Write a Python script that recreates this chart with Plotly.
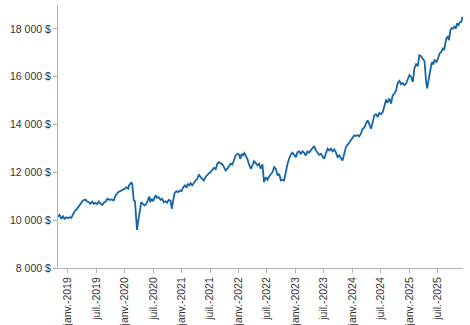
import plotly.graph_objects as go

# Portfolio value over time (weekly-ish closes)
dates = [
    "2018-10-29", "2018-11-08", "2018-11-19", "2018-11-30", "2018-12-10", "2018-12-21",
    "2019-01-01", "2019-01-11", "2019-01-22", "2019-02-02", "2019-02-12", "2019-02-28",
    "2019-03-17", "2019-03-28", "2019-04-07", "2019-04-24", "2019-05-03", "2019-05-16",
    "2019-05-24", "2019-06-06", "2019-06-15", "2019-06-27", "2019-07-06", "2019-07-19",
    "2019-07-28", "2019-08-10", "2019-08-18", "2019-08-31", "2019-09-11", "2019-09-22",
    "2019-10-06", "2019-10-21", "2019-11-03", "2019-11-19", "2019-12-03", "2019-12-16",
    "2019-12-31", "2020-01-11", "2020-01-22", "2020-01-28", "2020-02-06", "2020-02-12",
    "2020-02-18", "2020-02-27", "2020-03-06", "2020-03-19", "2020-03-27", "2020-04-04",
    "2020-04-15", "2020-04-26", "2020-05-07", "2020-05-18", "2020-05-29", "2020-06-06",
    "2020-06-12", "2020-06-21", "2020-06-30", "2020-07-09", "2020-07-17", "2020-07-26",
    "2020-08-06", "2020-08-17", "2020-08-28", "2020-09-07", "2020-09-18", "2020-09-29",
    "2020-10-09", "2020-10-20", "2020-10-28", "2020-11-06", "2020-11-15", "2020-11-27",
    "2020-12-08", "2020-12-19", "2020-12-30", "2021-01-10", "2021-01-20", "2021-01-31",
    "2021-02-08", "2021-02-17", "2021-02-26", "2021-03-08", "2021-03-19", "2021-03-30",
    "2021-04-10", "2021-04-20", "2021-05-01", "2021-05-12", "2021-05-22", "2021-06-02",
    "2021-06-13", "2021-06-23", "2021-07-04", "2021-07-15", "2021-07-26", "2021-08-06",
    "2021-08-16", "2021-08-27", "2021-09-07", "2021-09-18", "2021-09-28", "2021-10-09",
    "2021-10-20", "2021-10-30", "2021-11-10", "2021-11-21", "2021-12-01", "2021-12-12",
    "2021-12-23", "2022-01-02", "2022-01-11", "2022-01-20", "2022-01-28", "2022-02-06",
    "2022-02-14", "2022-02-25", "2022-03-08", "2022-03-19", "2022-03-30", "2022-04-09",
    "2022-04-20", "2022-05-01", "2022-05-11", "2022-05-22", "2022-06-02", "2022-06-12",
    "2022-06-23", "2022-07-04", "2022-07-15", "2022-07-26", "2022-08-05", "2022-08-16",
    "2022-08-27", "2022-09-07", "2022-09-17", "2022-09-28", "2022-10-09", "2022-10-19",
    "2022-10-30", "2022-11-10", "2022-11-20", "2022-12-01", "2022-12-12", "2022-12-23",
    "2023-01-03", "2023-01-13", "2023-01-24", "2023-02-03", "2023-02-14", "2023-02-24",
    "2023-03-07", "2023-03-18", "2023-03-28", "2023-04-08", "2023-04-19", "2023-04-30",
    "2023-05-11", "2023-05-21", "2023-06-01", "2023-06-12", "2023-06-23", "2023-07-03",
    "2023-07-14", "2023-07-25", "2023-08-04", "2023-08-15", "2023-08-26", "2023-09-05",
    "2023-09-16", "2023-09-27", "2023-10-08", "2023-10-19", "2023-10-29", "2023-11-09",
    "2023-11-20", "2023-12-01", "2023-12-11", "2023-12-22", "2024-01-01", "2024-01-12",
    "2024-01-23", "2024-02-03", "2024-02-13", "2024-02-24", "2024-03-06", "2024-03-17",
    "2024-03-27", "2024-04-07", "2024-04-18", "2024-04-29", "2024-05-10", "2024-05-20",
    "2024-05-31", "2024-06-11", "2024-06-21", "2024-07-02", "2024-07-13", "2024-07-23",
    "2024-08-03", "2024-08-14", "2024-08-24", "2024-09-04", "2024-09-15", "2024-09-26",
    "2024-10-07", "2024-10-17", "2024-10-28", "2024-11-08", "2024-11-18", "2024-11-29",
    "2024-12-10", "2024-12-20", "2024-12-31", "2025-01-11", "2025-01-22", "2025-02-01",
    "2025-02-12", "2025-02-23", "2025-03-05", "2025-03-16", "2025-03-27", "2025-04-07",
    "2025-04-18", "2025-04-24", "2025-05-04", "2025-05-13", "2025-05-22", "2025-05-27",
    "2025-06-02", "2025-06-11", "2025-06-22", "2025-07-03", "2025-07-13", "2025-07-24",
    "2025-08-04", "2025-08-11", "2025-08-17", "2025-08-25", "2025-09-03", "2025-09-11",
    "2025-09-20", "2025-09-29", "2025-10-07", "2025-10-16", "2025-10-25", "2025-11-02",
    "2025-11-11", "2025-11-20", "2025-11-29", "2025-12-07",
]

values = [
    10150, 10222, 10054, 10163, 10054, 10120,
    10080, 10122, 10096, 10222, 10360, 10474,
    10640, 10780, 10822, 10864, 10780, 10750,
    10683, 10780, 10683, 10725, 10667, 10780,
    10696, 10640, 10725, 10780, 10893, 10851,
    10864, 10822, 11032, 11170, 11212, 11271,
    11313, 11380, 11313, 11451, 11556, 11590,
    11480, 10822, 10790, 9593, 9983, 10403,
    10750, 10683, 10612, 10683, 10851, 10990,
    10750, 10893, 10793, 10960, 11044, 10935,
    10960, 10851, 10893, 10750, 10793, 10738,
    10851, 10822, 10474, 10822, 11128, 11212,
    11170, 11241, 11212, 11380, 11451, 11354,
    11522, 11451, 11547, 11451, 11589, 11660,
    11732, 11912, 11799, 11732, 11660, 11810,
    11900, 11954, 12008, 12109, 12193, 12134,
    12361, 12428, 12361, 12331, 12218, 12080,
    12151, 12247, 12361, 12331, 12500, 12709,
    12780, 12751, 12570, 12780, 12709, 12805,
    12709, 12570, 12332, 12151, 12290, 12470,
    12386, 12290, 12361, 12151, 12331, 11589,
    11799, 11690, 11828, 11940, 12008, 12218,
    12151, 11870, 11940, 11660, 11690, 11660,
    12080, 12360, 12570, 12738, 12822, 12709,
    12638, 12847, 12877, 12780, 12877, 12822,
    12709, 12877, 12822, 12918, 12990, 13100,
    12918, 12847, 12738, 12780, 12680, 12570,
    12780, 12990, 12918, 12990, 12877, 12960,
    12847, 12638, 12709, 12596, 12500, 12780,
    13057, 13157, 13241, 13337, 13434, 13547,
    13520, 13560, 13505, 13618, 13828, 13870,
    14038, 14176, 14008, 13828, 14105, 14386,
    14428, 14315, 14482, 14428, 14524, 14734,
    15015, 14944, 15086, 14877, 15225, 15296,
    15434, 15740, 15824, 15686, 15740, 15644,
    15715, 15883, 16063, 15992, 15782, 16344,
    16524, 16440, 16902, 16860, 16776, 16650,
    15750, 15518, 15895, 16315, 16545, 16608,
    16512, 16692, 16621, 16763, 16973, 17040,
    17208, 17111, 17350, 17602, 17669, 17531,
    17950, 18040, 18010, 18089, 18020, 18231,
    18160, 18273, 18298, 18509,
]

# Axis ticks
x_tick_dates = [
    "2019-01-01", "2019-07-01", "2020-01-01", "2020-07-01", "2021-01-01",
    "2021-07-01", "2022-01-01", "2022-07-01", "2023-01-01", "2023-07-01",
    "2024-01-01", "2024-07-01", "2025-01-01", "2025-07-01",
]
x_tick_labels = [
    "janv.-2019", "juil.-2019", "janv.-2020", "juil.-2020", "janv.-2021",
    "juil.-2021", "janv.-2022", "juil.-2022", "janv.-2023", "juil.-2023",
    "janv.-2024", "juil.-2024", "janv.-2025", "juil.-2025",
]
y_tick_values = [8000, 10000, 12000, 14000, 16000, 18000]
y_tick_labels = ["8 000 $", "10 000 $", "12 000 $", "14 000 $", "16 000 $", "18 000 $"]

fig = go.Figure(
    go.Scatter(
        x=dates,
        y=values,
        mode="lines",
        line=dict(color="#1565a7", width=1.8),
        hoverinfo="skip",
    )
)

axis_font = dict(family="Liberation Sans, Arial, sans-serif", size=10.5, color="#333333")

fig.update_layout(
    width=470,
    height=325,
    margin=dict(l=58, r=7, t=5, b=57),
    paper_bgcolor="white",
    plot_bgcolor="white",
    showlegend=False,
    xaxis=dict(
        range=["2018-10-29", "2025-12-10"],
        tickvals=x_tick_dates,
        ticktext=x_tick_labels,
        tickangle=-90,
        tickfont=axis_font,
        automargin=False,
        showgrid=False,
        zeroline=False,
        showline=True,
        linecolor="#b3b3b3",
        linewidth=1,
        ticks="outside",
        ticklen=4,
        tickcolor="#b3b3b3",
    ),
    yaxis=dict(
        range=[8000, 19000],
        tickvals=y_tick_values,
        ticktext=y_tick_labels,
        tickfont=axis_font,
        automargin=False,
        showgrid=False,
        zeroline=False,
        showline=True,
        linecolor="#b3b3b3",
        linewidth=1,
        ticks="outside",
        ticklen=4,
        tickcolor="#b3b3b3",
    ),
)

fig.write_html("out.html")
